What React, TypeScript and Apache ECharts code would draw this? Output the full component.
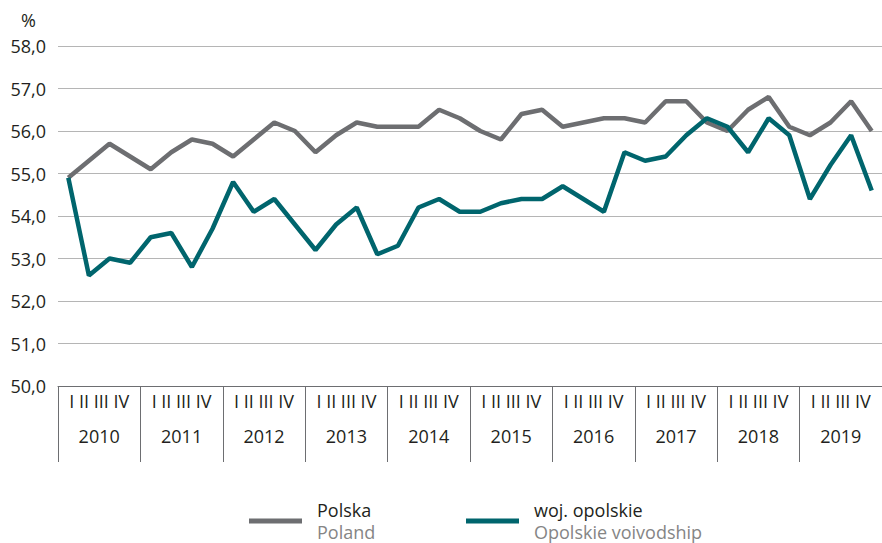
import React, { useEffect, useRef } from "react";
import * as echarts from "echarts";

const quarterLabels = ["I", "II", "III", "IV"];
const years = ["2010", "2011", "2012", "2013", "2014", "2015", "2016", "2017", "2018", "2019"];
const yTicks = [50, 51, 52, 53, 54, 55, 56, 57, 58];

const polska = [
  54.9, 55.3, 55.7, 55.4,
  55.1, 55.5, 55.8, 55.7,
  55.4, 55.8, 56.2, 56.0,
  55.5, 55.9, 56.2, 56.1,
  56.1, 56.1, 56.5, 56.3,
  56.0, 55.8, 56.4, 56.5,
  56.1, 56.2, 56.3, 56.3,
  56.2, 56.7, 56.7, 56.2,
  56.0, 56.5, 56.8, 56.1,
  55.9, 56.2, 56.7, 56.0,
];

const opolskie = [
  54.9, 52.6, 53.0, 52.9,
  53.5, 53.6, 52.8, 53.7,
  54.8, 54.1, 54.4, 53.8,
  53.2, 53.8, 54.2, 53.1,
  53.3, 54.2, 54.4, 54.1,
  54.1, 54.3, 54.4, 54.4,
  54.7, 54.4, 54.1, 55.5,
  55.3, 55.4, 55.9, 56.3,
  56.1, 55.5, 56.3, 55.9,
  54.4, 55.2, 55.9, 54.6,
];

const seriesNames = ["Polska", "woj. opolskie"];
const seriesNamesEn = ["Poland", "Opolskie voivodship"];

const FONT = "Open Sans";
const FS = 18;
const TEXT = "#231f20";
const GRAY = "#6d6e71";
const TEAL = "#00656d";

export default function App() {
  const ref = useRef<HTMLDivElement>(null);
  useEffect(() => {
    if (!ref.current) return;
    const chart = echarts.init(ref.current, null, { renderer: "svg" });
    const quarterCats: string[] = [];
    years.forEach((y) => quarterLabels.forEach((q) => quarterCats.push(y + " " + q)));
    const legendBase = (name: string, left: number) => ({
      data: [name],
      left,
      top: 501,
      padding: 0,
      icon: "rect",
      itemWidth: 53,
      itemHeight: 5,
      itemGap: 0,
      selectedMode: false,
      formatter: (n: string) => {
        const i = seriesNames.indexOf(n);
        return "{a|" + n + "}\n{b|" + seriesNamesEn[i] + "}";
      },
      textStyle: {
        padding: [0, 0, 0, 10],
        rich: {
          a: { fontFamily: FONT, fontSize: FS, color: TEXT, lineHeight: 22 },
          b: { fontFamily: FONT, fontSize: FS, color: "#858585", lineHeight: 22 },
        },
      },
    });
    chart.setOption({
      animation: false,
      textStyle: { fontFamily: FONT },
      grid: { left: 58, top: 46, width: 834, height: 340, containLabel: false },
      graphic: [
        {
          type: "text",
          left: 21,
          top: 11,
          style: { text: "%", fontFamily: FONT, fontSize: FS, fill: TEXT },
        },
      ],
      legend: [legendBase(seriesNames[0], 249), legendBase(seriesNames[1], 466)],
      xAxis: [
        {
          type: "category",
          data: quarterCats,
          boundaryGap: true,
          axisLine: { show: true, lineStyle: { color: GRAY, width: 1 } },
          axisTick: { show: false },
          axisLabel: { show: false },
          splitLine: { show: false },
        },
        {
          type: "category",
          data: years,
          position: "bottom",
          boundaryGap: true,
          axisLine: { show: false },
          axisTick: { show: true, length: 76, lineStyle: { color: GRAY, width: 1 } },
          axisLabel: {
            interval: 0,
            margin: 6,
            formatter: () => quarterLabels.join(" "),
            fontFamily: FONT,
            fontSize: FS,
            color: TEXT,
          },
          splitLine: { show: false },
        },
        {
          type: "category",
          data: years,
          position: "bottom",
          boundaryGap: true,
          axisLine: { show: false },
          axisTick: { show: false },
          axisLabel: {
            interval: 0,
            margin: 41,
            fontFamily: FONT,
            fontSize: FS,
            color: TEXT,
          },
          splitLine: { show: false },
        },
      ],
      yAxis: {
        type: "value",
        min: yTicks[0],
        max: yTicks[yTicks.length - 1],
        interval: 1,
        axisLine: { show: false },
        axisTick: { show: false },
        axisLabel: {
          margin: 12,
          fontFamily: FONT,
          fontSize: FS,
          color: TEXT,
          formatter: (v: number) => v.toFixed(1).replace(".", ","),
        },
        splitLine: { show: true, lineStyle: { color: "#b5b5b5", width: 1 } },
      },
      series: [
        {
          name: seriesNames[0],
          type: "line",
          data: polska,
          xAxisIndex: 0,
          symbol: "none",
          lineStyle: { color: GRAY, width: 4.5 },
          itemStyle: { color: GRAY },
        },
        {
          name: seriesNames[1],
          type: "line",
          data: opolskie,
          xAxisIndex: 0,
          symbol: "none",
          lineStyle: { color: TEAL, width: 4.5 },
          itemStyle: { color: TEAL },
        },
      ],
    });
    return () => chart.dispose();
  }, []);
  return (
    <div
      ref={ref}
      style={{ position: "absolute", left: 0, top: 0, width: 882, height: 543, background: "#fff" }}
    />
  );
}
